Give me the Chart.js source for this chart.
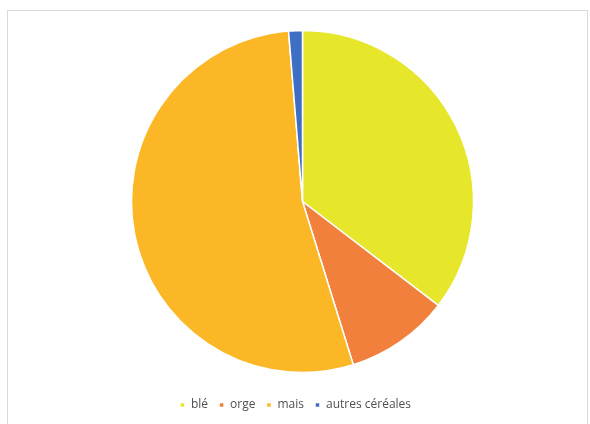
<!DOCTYPE html>
<html>
<head>
<meta charset="UTF-8">
<script src="https://cdn.jsdelivr.net/npm/chart.js"></script>
<title>Céréales</title>
<style>
  html, body { margin: 0; padding: 0; background: #fff; }
  #frame {
    position: absolute; left: 7px; top: 10px;
    width: 581px; height: 420px;
    border: 1px solid #d9d9d9;
    box-sizing: border-box;
  }
  #wrap { position: absolute; left: 0; top: 0; width: 579px; height: 412px; }
</style>
</head>
<body>
<div id="frame">
  <div id="wrap"><canvas id="myChart"></canvas></div>
</div>

<script>
  // parts of the pie, in percent
  const categories = ['blé', 'orge', 'mais', 'autres céréales'];
  const values = [35.4, 9.8, 53.5, 1.3];
  const colours = ['#e6e62a', '#f0803c', '#fbb725', '#3f6fc4'];

  const ctx = document.getElementById('myChart');

  // the legend sits a bit left of the pie's centre in the original
  const nudgeLegend = {
    id: 'nudgeLegend',
    afterLayout(chart) {
      const lg = chart.legend;
      if (lg) { lg.left -= 14; lg.right -= 0; }
    }
  };

  new Chart(ctx, {
    type: 'pie',
    data: {
      labels: categories,
      datasets: [{
        data: values,
        backgroundColor: colours,
        borderColor: '#ffffff',
        borderWidth: 1.5,
        radius: 171
      }]
    },
    options: {
      responsive: true,
      maintainAspectRatio: false,
      animation: false,
      layout: { padding: { left: 10, right: 0, top: 4, bottom: 2 } },
      plugins: {
        tooltip: { enabled: false },
        legend: {
          position: 'bottom',
          labels: {
            usePointStyle: true,
            pointStyle: 'rect',
            boxWidth: 5,
            boxHeight: 5,
            padding: 11,
            color: '#505050',
            font: { family: 'Open Sans', size: 12 }
          }
        }
      }
    },
    plugins: [nudgeLegend]
  });
</script>
</body>
</html>
